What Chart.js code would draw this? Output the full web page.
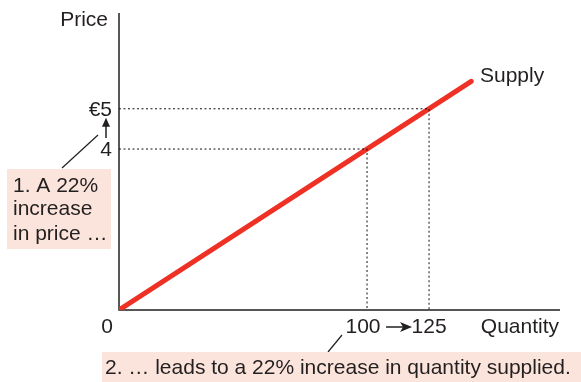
<!DOCTYPE html>
<html>
<head>
<meta charset="utf-8">
<script src="https://cdn.jsdelivr.net/npm/chart.js@4.4.0/dist/chart.umd.min.js"></script>
<style>
  html, body { margin: 0; padding: 0; background: #fff; }
  #wrap { width: 581px; height: 382px; }
</style>
</head>
<body>
<div id="wrap"><canvas id="graph"></canvas></div>
<script>
// supply curve (quantity, price)
const SUPPLY_QTY = [0, 142];
const SUPPLY_PRICE = [0, 5.68];

// the two points on the curve that the text talks about
const GUIDE_QTY = [100, 125];
const GUIDE_PRICE = [4, 5];
const PRICE_LABELS = ["4", "€5"];
const QTY_LABELS = ["100", "125"];

const FONT = '21px "Liberation Sans", Arial, sans-serif';
const INK = "#231f20";
const RED = "#ee3124";
const BOX = "#fbe4db";

function guide(i) {
    return {
        data: [
            { x: 0, y: GUIDE_PRICE[i] },
            { x: GUIDE_QTY[i], y: GUIDE_PRICE[i] },
            { x: GUIDE_QTY[i], y: 0 }
        ],
        borderColor: "#111",
        borderWidth: 1,
        borderDash: [2, 2.5],
        pointRadius: 0,
        fill: false
    };
}

// axes, labels and notes
const notes = {
    id: "notes",
    beforeDatasetsDraw(chart) {
        const c = chart.ctx;
        const a = chart.chartArea;
        c.save();
        c.strokeStyle = INK;
        c.lineWidth = 1.5;
        c.beginPath();
        c.moveTo(a.left, a.top);
        c.lineTo(a.left, a.bottom);
        c.lineTo(a.right, a.bottom);
        c.stroke();
        c.restore();
    },
    afterDraw(chart) {
        const c = chart.ctx;
        const X = chart.scales.x;
        const Y = chart.scales.y;
        const a = chart.chartArea;
        c.save();
        c.font = FONT;
        c.fillStyle = INK;
        c.textBaseline = "middle";

        // y side
        c.textAlign = "right";
        c.fillText("Price", 108, 20);
        for (let i = 0; i < GUIDE_PRICE.length; i++) {
            c.fillText(PRICE_LABELS[i], 112, Y.getPixelForValue(GUIDE_PRICE[i]) + 1);
        }
        // little arrow from 4 up to 5
        const y4 = Y.getPixelForValue(GUIDE_PRICE[0]);
        const y5 = Y.getPixelForValue(GUIDE_PRICE[1]);
        c.strokeStyle = INK;
        c.lineWidth = 1.5;
        c.beginPath();
        c.moveTo(106, y4 - 11);
        c.lineTo(106, y5 + 14);
        c.stroke();
        c.beginPath();
        c.moveTo(106, y5 + 9);
        c.lineTo(102, y5 + 18);
        c.lineTo(110, y5 + 18);
        c.closePath();
        c.fill();

        // note 1
        c.lineWidth = 1.2;
        c.beginPath();
        c.moveTo(62, 168);
        c.lineTo(98, 135);
        c.stroke();
        c.fillStyle = BOX;
        c.fillRect(7, 169, 104, 80);
        c.fillStyle = INK;
        c.textAlign = "left";
        c.fillText("1. A 22%", 13, 186);
        c.fillText("increase", 13, 209);
        c.fillText("in price …", 13, 234);

        // x side
        c.textAlign = "center";
        c.fillText("0", 107, 327);
        const x1 = X.getPixelForValue(GUIDE_QTY[0]);
        const x2 = X.getPixelForValue(GUIDE_QTY[1]);
        c.fillText(QTY_LABELS[0], x1 - 4, 327);
        c.fillText(QTY_LABELS[1], x2, 327);
        c.lineWidth = 1.5;
        c.beginPath();
        c.moveTo(x1 + 19, 327);
        c.lineTo(x2 - 24, 327);
        c.stroke();
        c.beginPath();
        c.moveTo(x2 - 17, 327);
        c.lineTo(x2 - 29, 322);
        c.lineTo(x2 - 26, 327);
        c.lineTo(x2 - 29, 332);
        c.closePath();
        c.fill();
        c.textAlign = "right";
        c.fillText("Quantity", a.right - 1, 327);

        // curve label
        c.textAlign = "left";
        c.fillText("Supply", 480, 76);

        // note 2
        c.lineWidth = 1.2;
        c.beginPath();
        c.moveTo(328, 352);
        c.lineTo(342, 335);
        c.stroke();
        c.fillStyle = BOX;
        c.fillRect(102, 352, 479, 30);
        c.fillStyle = INK;
        c.fillText("2. … leads to a 22% increase in quantity supplied.", 105, 368);
        c.restore();
    }
};

const IDG = document.getElementById("graph").getContext("2d");
const myChart = new Chart(IDG, {
    type: "line",
    data: {
        datasets: [
            guide(0),
            guide(1),
            {
                data: SUPPLY_QTY.map((q, i) => ({ x: q, y: SUPPLY_PRICE[i] })),
                borderColor: RED,
                borderWidth: 5,
                borderCapStyle: "round",
                pointRadius: 0,
                fill: false
            }
        ]
    },
    options: {
        responsive: true,
        maintainAspectRatio: false,
        animation: false,
        layout: { padding: { left: 119, right: 21, top: 13, bottom: 72 } },
        scales: {
            x: { type: "linear", min: 0, max: 177.8, display: false },
            y: { type: "linear", min: 0, max: 7.38, display: false }
        },
        plugins: {
            legend: { display: false },
            tooltip: { enabled: false }
        }
    },
    plugins: [notes]
});
</script>
</body>
</html>
